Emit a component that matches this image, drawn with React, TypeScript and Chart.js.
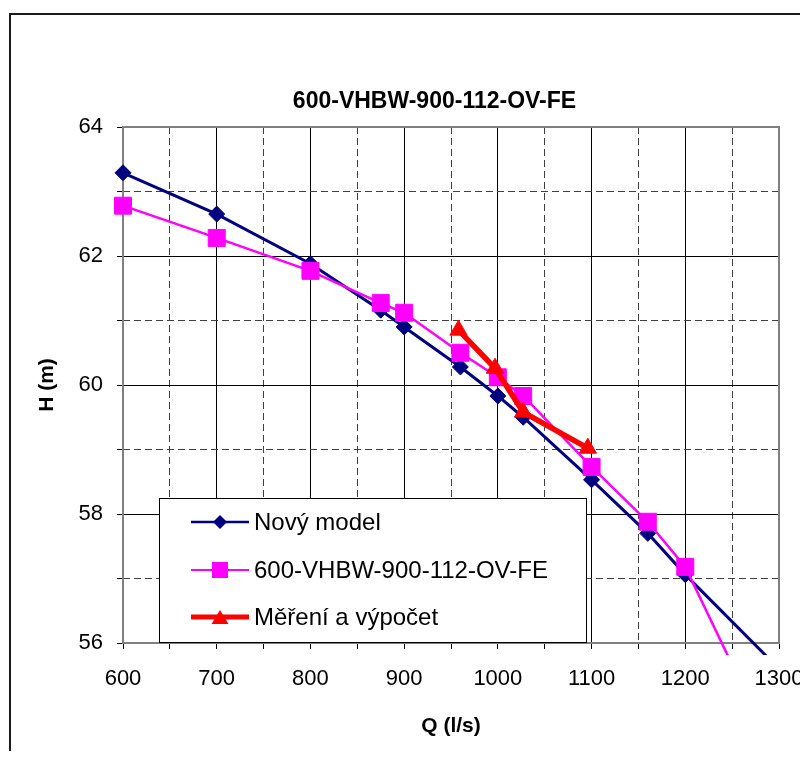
import React, { useEffect, useRef } from 'react';
import { Chart, registerables } from 'chart.js';

Chart.register(...registerables);

const chartTitle = '600-VHBW-900-112-OV-FE';
const xTitle = 'Q (l/s)';
const yTitle = 'H (m)';
const seriesNames = ['Nový model', '600-VHBW-900-112-OV-FE', 'Měření a výpočet'];
const seriesColors = ['#000080', '#FF00FF', '#FF0000'];

const novyQ = [600, 700, 800, 875, 900, 960, 1000, 1027, 1100, 1160, 1200, 1300];
const novyH = [63.29, 62.65, 61.88, 61.16, 60.9, 60.28, 59.83, 59.5, 58.53, 57.7, 57.06, 55.6];
const vhbwQ = [600, 700, 800, 875, 900, 960, 1000, 1027, 1100, 1160, 1200, 1300];
const vhbwH = [62.78, 62.28, 61.77, 61.27, 61.12, 60.5, 60.12, 59.83, 58.73, 57.88, 57.18, 54.15];
const mereniQ = [958, 997, 1027, 1096];
const mereniH = [60.85, 60.26, 59.58, 59.02];

const xMin = 600;
const xMax = 1300;
const xStep = 50;
const xLabelStep = 100;
const yMin = 56;
const yMax = 64;
const yStep = 1;
const yLabelStep = 2;

const FONT = '"Liberation Sans", Arial, sans-serif';

const toPts = (xs: number[], ys: number[]) => xs.map((x, i) => ({ x, y: ys[i] }));

const framePlugin = {
  id: 'frame',
  beforeDraw(chart: any) {
    const { ctx, width, height } = chart;
    ctx.save();
    ctx.strokeStyle = '#1a1a1a';
    ctx.lineWidth = 2;
    ctx.beginPath();
    ctx.moveTo(2, height + 5);
    ctx.lineTo(2, 6);
    ctx.lineTo(width + 5, 6);
    ctx.stroke();
    ctx.fillStyle = '#000';
    ctx.font = `bold 23px ${FONT}`;
    ctx.textAlign = 'center';
    ctx.textBaseline = 'middle';
    ctx.fillText(chartTitle, 426.5, 94);
    ctx.restore();
  },
};

const plotBorderPlugin = {
  id: 'plotBorder',
  beforeDatasetsDraw(chart: any) {
    const { ctx, chartArea } = chart;
    ctx.save();
    ctx.strokeStyle = '#808080';
    ctx.lineWidth = 2;
    ctx.strokeRect(chartArea.left, chartArea.top, chartArea.right - chartArea.left, chartArea.bottom - chartArea.top);
    ctx.restore();
  },
};

function drawMarker(ctx: CanvasRenderingContext2D, style: string, x: number, y: number) {
  ctx.beginPath();
  if (style === 'diamond') {
    const r = 7;
    ctx.moveTo(x, y - r);
    ctx.lineTo(x + r, y);
    ctx.lineTo(x, y + r);
    ctx.lineTo(x - r, y);
    ctx.closePath();
  } else if (style === 'square') {
    ctx.rect(x - 8, y - 8, 16, 16);
  } else {
    ctx.moveTo(x, y - 7);
    ctx.lineTo(x + 8.5, y + 7);
    ctx.lineTo(x - 8.5, y + 7);
    ctx.closePath();
  }
  ctx.fill();
}

const legendPlugin = {
  id: 'customLegend',
  afterDraw(chart: any) {
    const { ctx } = chart;
    const bx = 151;
    const by = 490;
    const bw = 427;
    const bh = 144;
    ctx.save();
    ctx.fillStyle = '#fff';
    ctx.fillRect(bx, by, bw, bh);
    ctx.strokeStyle = '#000';
    ctx.lineWidth = 1;
    ctx.strokeRect(bx + 0.5, by + 0.5, bw, bh);
    const rows = [514, 562, 609];
    const widths = [2.5, 2, 5];
    const markers = ['diamond', 'square', 'triangle'];
    rows.forEach((ry, i) => {
      ctx.strokeStyle = seriesColors[i];
      ctx.fillStyle = seriesColors[i];
      ctx.lineWidth = widths[i];
      ctx.beginPath();
      ctx.moveTo(183, ry);
      ctx.lineTo(241, ry);
      ctx.stroke();
      drawMarker(ctx, markers[i], 212, ry);
      ctx.fillStyle = '#000';
      ctx.font = `24px ${FONT}`;
      ctx.textAlign = 'left';
      ctx.textBaseline = 'middle';
      ctx.fillText(seriesNames[i], 246, ry + 1);
    });
    ctx.restore();
  },
};

export default function App() {
  const canvasRef = useRef<HTMLCanvasElement | null>(null);

  useEffect(() => {
    const canvas = canvasRef.current;
    if (!canvas) return;
    const clip = { left: 12, top: 12, right: 12, bottom: 12 };
    const chart = new Chart(canvas, {
      type: 'line',
      data: {
        datasets: [
          {
            label: seriesNames[0],
            data: toPts(novyQ, novyH),
            borderColor: seriesColors[0],
            backgroundColor: seriesColors[0],
            borderWidth: 3,
            pointStyle: 'rectRot',
            pointRadius: 8,
            pointBorderWidth: 1,
            tension: 0,
            order: 3,
            clip,
          },
          {
            label: seriesNames[1],
            data: toPts(vhbwQ, vhbwH),
            borderColor: seriesColors[1],
            backgroundColor: seriesColors[1],
            borderWidth: 2.5,
            pointStyle: 'rect',
            pointRadius: 12,
            pointBorderWidth: 1,
            tension: 0,
            order: 2,
            clip,
          },
          {
            label: seriesNames[2],
            data: toPts(mereniQ, mereniH),
            borderColor: seriesColors[2],
            backgroundColor: seriesColors[2],
            borderWidth: 5.5,
            pointStyle: 'triangle',
            pointRadius: 10,
            pointBorderWidth: 1,
            tension: 0,
            order: 1,
            clip,
          },
        ],
      } as any,
      options: {
        responsive: false,
        animation: false,
        events: [],
        layout: { padding: { top: 119, left: 0, right: 29, bottom: 0 } },
        plugins: {
          legend: { display: false },
          title: { display: false },
          tooltip: { enabled: false },
        },
        scales: {
          x: {
            type: 'linear',
            position: 'bottom',
            min: xMin,
            max: xMax,
            ticks: {
              stepSize: xStep,
              autoSkip: false,
              maxRotation: 0,
              padding: 17,
              color: '#000',
              font: { family: FONT, size: 22 },
              callback: (v: any) => (Number(v) % xLabelStep === 0 ? String(v) : ''),
            },
            grid: {
              color: (c: any) => (c.tick && c.tick.value % xLabelStep === 0 ? '#000' : '#404040'),
              lineWidth: 1,
              tickLength: 6,
              tickColor: '#000',
              tickBorderDash: [],
            },
            border: {
              display: false,
              dash: (c: any) => (c.tick && c.tick.value % xLabelStep !== 0 ? [7, 4] : []),
            },
            title: {
              display: true,
              text: xTitle,
              color: '#000',
              font: { family: FONT, size: 21, weight: 'bold' },
              padding: { top: 0, bottom: 12 },
            },
            afterFit: (s: any) => {
              s.height = 108;
              s.paddingLeft = 0;
              s.paddingRight = 0;
            },
          },
          y: {
            type: 'linear',
            min: yMin,
            max: yMax,
            ticks: {
              stepSize: yStep,
              autoSkip: false,
              padding: 14,
              color: '#000',
              font: { family: FONT, size: 22 },
              callback: (v: any) => (Number(v) % yLabelStep === 0 ? String(v) : ''),
            },
            grid: {
              color: (c: any) => (c.tick && c.tick.value % yLabelStep === 0 ? '#000' : '#404040'),
              lineWidth: 1,
              tickLength: 6,
              tickColor: '#000',
              tickBorderDash: [],
            },
            border: {
              display: false,
              dash: (c: any) => (c.tick && c.tick.value % yLabelStep !== 0 ? [7, 4] : []),
            },
            title: {
              display: true,
              text: yTitle,
              color: '#000',
              font: { family: FONT, size: 21, weight: 'bold' },
              padding: { top: 27, bottom: 0 },
            },
            afterFit: (s: any) => {
              s.width = 115;
              s.paddingTop = 0;
              s.paddingBottom = 0;
            },
          },
        },
      } as any,
      plugins: [framePlugin, plotBorderPlugin, legendPlugin],
    });
    return () => chart.destroy();
  }, []);

  return <canvas ref={canvasRef} width={800} height={743} style={{ display: 'block' }} />;
}
